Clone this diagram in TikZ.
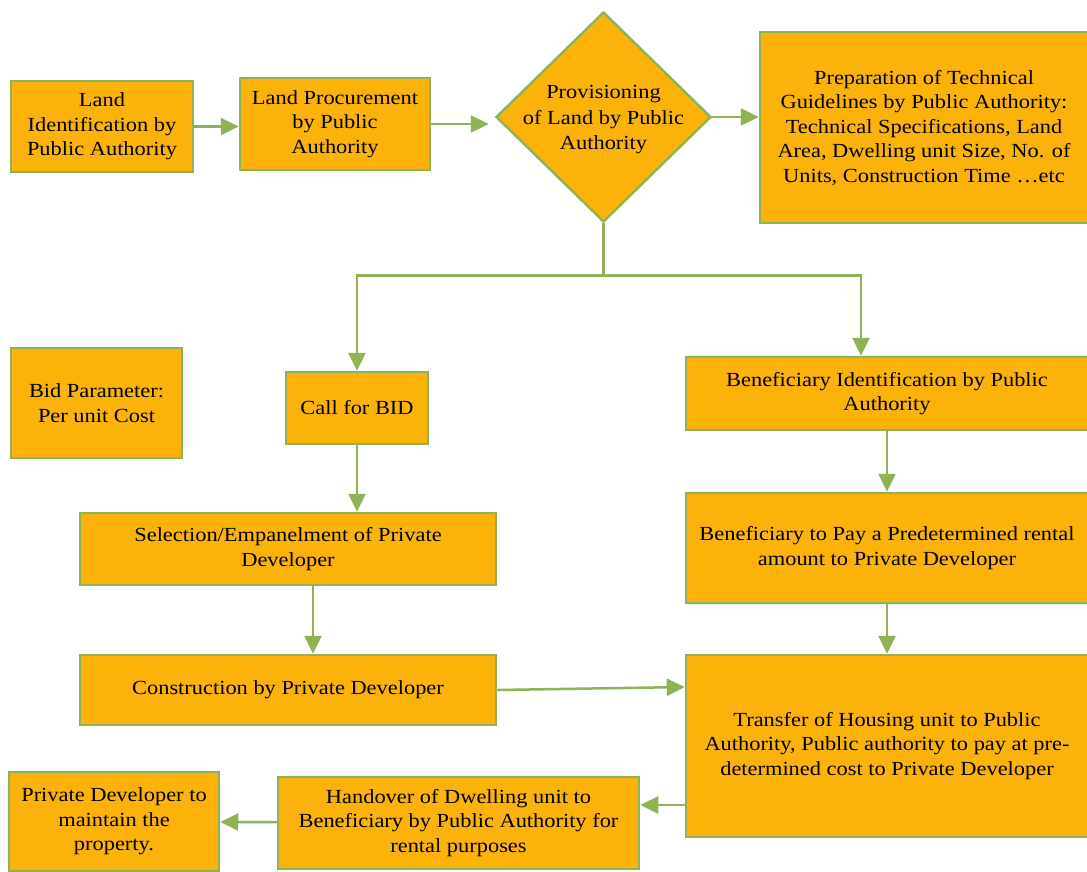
\documentclass[tikz,border=0pt]{standalone}
\usepackage{fontspec}
\setmainfont[FakeStretch=1.12]{Liberation Serif}
\usetikzlibrary{arrows.meta,shapes.geometric}
\definecolor{boxfill}{HTML}{FBB30B}
\definecolor{boxline}{HTML}{8FB354}

\begin{document}
\begin{tikzpicture}[x=1pt,y=-1pt,
    box/.style={draw=boxline,line width=2.5pt,fill=boxfill,inner sep=0pt,align=center,
      font=\fontsize{20}{24.5}\selectfont},
    arr/.style={draw=boxline,line width=2.5pt,-{Triangle[length=18pt,width=17pt]}}]
  \useasboundingbox (0,0) rectangle (1087,871);
  % top row
  \node[box,minimum width=182pt,minimum height=91pt] (landid) at (102,126.5)
    {Land\\Identification by\\Public Authority};
  \node[box,minimum width=190pt,minimum height=92pt] (landproc) at (335,124)
    {Land Procurement\\by Public\\Authority};
  \node[box,shape=diamond,minimum width=215pt,minimum height=210pt,
    label={[font=\fontsize{20}{25.5}\selectfont,align=center,yshift=-3pt]center:Provisioning\\of Land by Public\\Authority}]
    (prov) at (603.5,117) {};
  \node[box,minimum width=328pt,minimum height=191pt] (prep) at (924,127.5)
    {Preparation of Technical\\Guidelines by Public Authority:\\Technical Specifications, Land\\Area, Dwelling unit Size, No. of\\Units, Construction Time \ldots etc};
  % middle
  \node[box,minimum width=171pt,minimum height=110pt] (bidparam) at (96.5,403)
    {Bid Parameter:\\Per unit Cost};
  \node[box,minimum width=142pt,minimum height=72pt] (callbid) at (357,408) {Call for BID};
  \node[box,minimum width=402pt,minimum height=73pt] (benid) at (887,393.5)
    {Beneficiary Identification by Public\\Authority};
  \node[box,minimum width=416pt,minimum height=72pt] (select) at (288,549)
    {Selection/Empanelment of Private\\Developer};
  \node[box,minimum width=402pt,minimum height=110pt] (pay) at (887,548)
    {Beneficiary to Pay a Predetermined rental\\amount to Private Developer};
  % bottom
  \node[box,minimum width=416pt,minimum height=70pt] (constr) at (288,690)
    {Construction by Private Developer};
  \node[box,minimum width=402pt,minimum height=182pt] (transfer) at (887,746)
    {Transfer of Housing unit to Public\\Authority, Public authority to pay at pre-\\determined cost to Private Developer};
  \node[box,minimum width=361pt,minimum height=92pt] (handover) at (458.5,823)
    {Handover of Dwelling unit to\\Beneficiary by Public Authority for\\rental purposes};
  \node[box,minimum width=210pt,minimum height=99pt] (maintain) at (114,821.5)
    {Private Developer to\\maintain the\\property.};

  \draw[arr] (landid.east) -- (landid.east -| landproc.west);
  \draw[arr] (landproc.east) -- ([xshift=-6pt]prov.west |- landproc.east);
  \draw[arr] (prov.east) -- (prov.east -| prep.west);
  \draw[draw=boxline,line width=2.5pt] (prov.south) -- ++(0,52) coordinate (split);
  \draw[arr] (split) -| (callbid.north);
  \draw[arr] (split) -| ([xshift=-26pt]benid.north);
  \draw[arr] (callbid) -- (callbid |- select.north);
  \draw[arr] ([xshift=25pt]select.south) -- ([xshift=25pt]select.south |- constr.north);
  \draw[arr] (benid) -- (pay);
  \draw[arr] (pay) -- (transfer);
  \draw[arr] (constr.east) -- ([yshift=3pt]transfer.west |- constr.east);
  \coordinate (back) at ([yshift=-59pt]transfer.west);
  \draw[arr] (back) -- (back -| handover.east);
  \draw[arr] (handover) -- (maintain);
\end{tikzpicture}
\end{document}
